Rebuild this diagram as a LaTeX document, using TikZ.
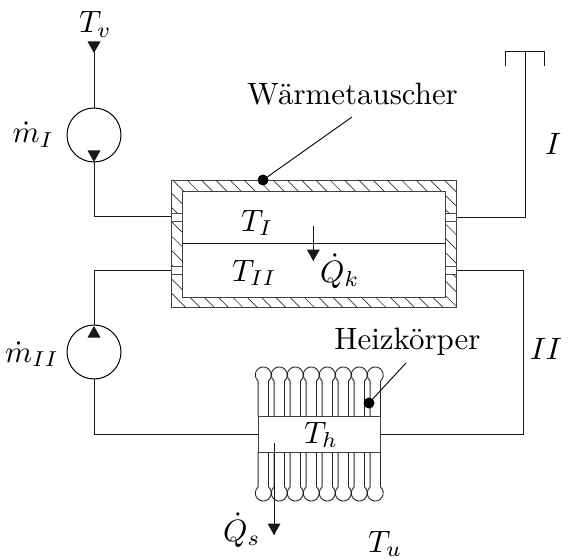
\documentclass[tikz,border=0pt]{standalone}
\usetikzlibrary{calc}
\tikzset{
  wire/.style={line width=1.0pt,black!90},
  thin wall/.style={line width=0.9pt,black!75},
  hatchline/.style={line width=0.7pt,black!80},
  pump/.style={draw,circle,line width=1.0pt,minimum size=54pt,inner sep=0pt,outer sep=0pt},
  portbox/.style={draw,line width=0.8pt,black!70,fill=white},
  lab/.style={anchor=base west,inner sep=0pt,outer sep=0pt,scale=3.09},
  labc/.style={anchor=base,inner sep=0pt,outer sep=0pt,scale=3.09},
  labr/.style={anchor=base east,inner sep=0pt,outer sep=0pt,scale=3.09},
  blob/.style={circle,fill=black,minimum size=11pt,inner sep=0pt,outer sep=0pt},
  tipfill/.style={fill=black!90,draw=none}
}
\newcommand{\downtip}[1]{\fill[tipfill] ($(#1)+(-6.5,-11.5)$) -- ($(#1)+(6.5,-11.5)$) -- (#1) -- cycle;}
\newcommand{\uptip}[1]{\fill[tipfill] ($(#1)+(-6.5,11.5)$) -- ($(#1)+(6.5,11.5)$) -- (#1) -- cycle;}
\begin{document}
\begin{tikzpicture}[x=1pt,y=-1pt]
\useasboundingbox (0,0) rectangle (568,559);
% heat exchanger hatching
\begin{scope}[even odd rule]
\clip (171,180) rectangle (456,307) (182,191) rectangle (445,297);
\foreach \kk in {-10,...,19}{
  \pgfmathsetmacro{\cc}{7+14.3*\kk}
  \draw[hatchline] ({\cc+170},170) -- ({\cc+320},320);
}
\end{scope}
\draw[thin wall] (171,180) rectangle (456,307);
\draw[thin wall] (182,191) rectangle (445,297);
\coordinate (dl) at (182,243); \coordinate (dr) at (445,243);
\draw[wire] (dl) -- (dr);
% ports
\node[portbox,minimum width=11pt,minimum height=8pt,inner sep=0pt,outer sep=0pt] (pa) at (176.5,217) {};
\node[portbox,minimum width=11pt,minimum height=7.5pt,inner sep=0pt,outer sep=0pt] (pb) at (176.5,270.5) {};
\node[portbox,minimum width=11pt,minimum height=8pt,inner sep=0pt,outer sep=0pt] (pc) at (450.5,217) {};
\node[portbox,minimum width=11pt,minimum height=7.5pt,inner sep=0pt,outer sep=0pt] (pd) at (450.5,270.5) {};
% pumps
\node[pump] (p1) at (94,135) {};
\node[pump] (p2) at (94,352) {};
% radiator fins
\foreach \ii in {0,...,7}{
  \pgfmathsetmacro{\cx}{263.3+16*\ii}
  \draw[line width=0.9pt,black!85] ({\cx-5.2},416) -- ({\cx-5.2},381)
     arc[start angle=130.5,end angle=409.5,radius=8] -- ({\cx+5.2},416);
  \draw[line width=0.9pt,black!85] ({\cx-5.2},452) -- ({\cx-5.2},487)
     arc[start angle=229.5,end angle=-49.5,radius=8] -- ({\cx+5.2},452);
}
\node[draw,line width=0.9pt,black!75,fill=white,minimum width=122pt,minimum height=36pt,inner sep=0pt,outer sep=0pt] (th) at (319,434) {};
% loop I
\coordinate (tv) at (94,42);
\coordinate (c1) at (94,216.5);
\coordinate (c2) at (525,217);
\coordinate (capm) at (525,52);
\coordinate (capl) at (505.5,52);
\coordinate (capr) at (544,52);
\coordinate (capla) at (505.5,66);
\coordinate (capra) at (544,66);
\draw[wire] (tv) -- (p1.north);
\draw[wire] (p1.south) -- (c1) -- (c1 -| pa.west);
\draw[wire] (pc.east) -- (c2) -- (capm);
\draw[wire] (capla) -- (capl) -- (capr) -- (capra);
% loop II
\coordinate (c3) at (94,270);
\coordinate (c4) at (94,434);
\coordinate (c5) at (523,434);
\coordinate (c6) at (523,270);
\draw[wire] (p2.north) -- (c3) -- (c3 -| pb.west);
\draw[wire] (p2.south) -- (c4) -- (c4 -| th.west);
\draw[wire] (c4 -| th.east) -- (c5) -- (c6) -- (c6 -| pd.east);
% flow arrows
\coordinate (t1) at (94,53); \downtip{t1}
\coordinate (t2) at (94,162); \downtip{t2}
\coordinate (t3) at (94,326); \uptip{t3}
% heat arrows
\coordinate (qka) at (313.3,226); \coordinate (qkb) at (313.3,261);
\draw[wire] (qka) -- (qkb); \downtip{qkb}
\coordinate (qsa) at (274,443); \coordinate (qsb) at (274,535);
\draw[wire] (qsa) -- (qsb); \downtip{qsb}
% leaders
\node[blob] (d1) at (263,180) {};
\coordinate (l1) at (352,117);
\draw[line width=0.9pt] (d1.center) -- (l1);
\node[blob] (d2) at (369,403) {};
\coordinate (l2) at (406,363);
\draw[line width=0.9pt] (d2.center) -- (l2);
% labels
\node[lab] (n1) at (79,33) {$T_v$};
\node[labr] (n2) at (54,143) {$\dot m_I$};
\node[labc] (n3) at (352.5,105) {Wärmetauscher};
\node[lab] (n4) at (545,155) {$I$};
\node[lab] (n5) at (241,231) {$T_I$};
\node[lab] (n6) at (232,281) {$T_{II}$};
\node[lab] (n7) at (320,282) {$\dot Q_k$};
\node[labr] (n8) at (59,362) {$\dot m_{II}$};
\node[labc] (n9) at (407.5,349) {Heizkörper};
\node[lab] (n10) at (530,359) {$II$};
\node[lab] (n11) at (304,443) {$T_h$};
\node[lab] (n12) at (223,541) {$\dot Q_s$};
\node[lab] (n13) at (368,552) {$T_u$};
\end{tikzpicture}
\end{document}
